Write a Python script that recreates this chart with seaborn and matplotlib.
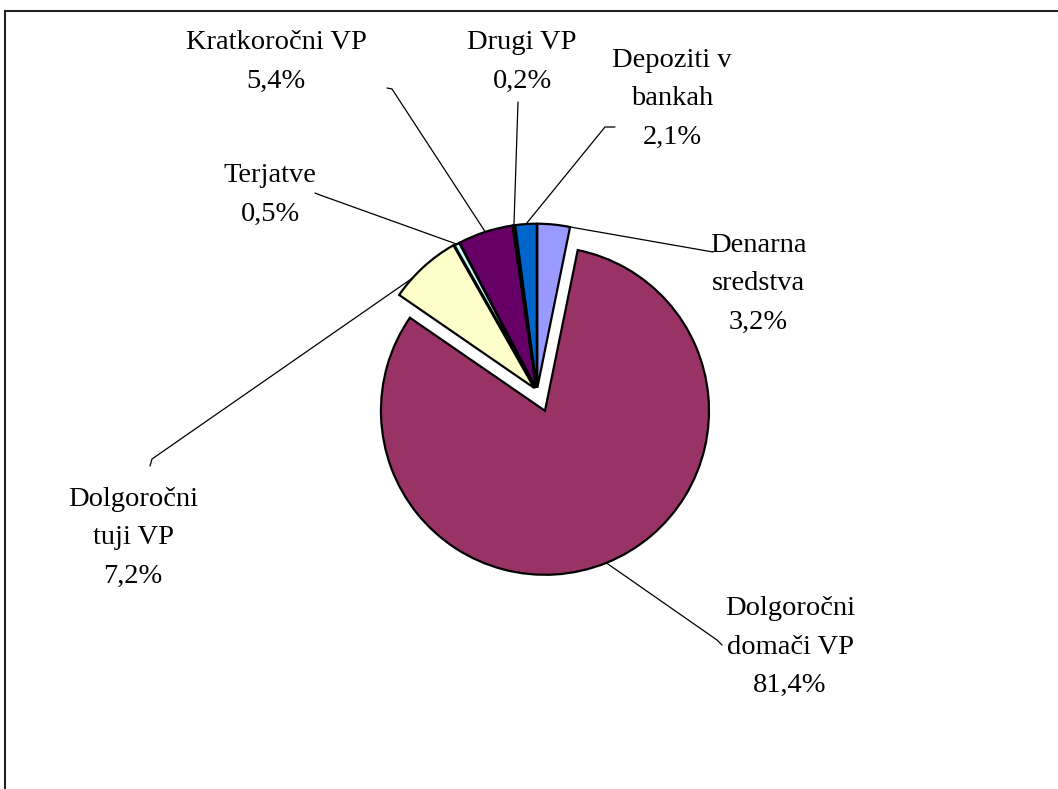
import numpy as np
import matplotlib
matplotlib.use('Agg')
import matplotlib.pyplot as plt
from matplotlib.patches import Rectangle
import seaborn as sns

# Data (order: clockwise from 12 o'clock)
labels = ['Denarna\nsredstva', 'Dolgoročni\ndomači VP', 'Dolgoročni\ntuji VP',
          'Terjatve', 'Kratkoročni VP', 'Drugi VP', 'Depoziti v\nbankah']
shares = [3.2, 81.4, 7.2, 0.5, 5.4, 0.2, 2.1]
colors = ['#9999FF', '#993366', '#FFFFCC', '#CCFFFF', '#660066', '#FF8080', '#0066CC']

sns.set_theme(style='white')
plt.rcParams['font.family'] = ['Liberation Serif', 'DejaVu Serif']

W, H = 1058, 789
fig = plt.figure(figsize=(W / 100, H / 100), dpi=100)
ax = fig.add_axes([0, 0, 1, 1])

# pie centre and radius in pixels
cx, cy, R = 537, 391, 164


def px(x, y):
    return ((x - cx) / R, (cy - y) / R)


explode = [0.02, 0.13, 0.025, 0.02, 0.02, 0.02, 0.02]
wedges, _ = ax.pie(shares, colors=sns.color_palette(colors), startangle=90, counterclock=False,
                   explode=explode, radius=1,
                   wedgeprops=dict(edgecolor='black', linewidth=1.6))
ax.set_xlim(-cx / R, (W - cx) / R)
ax.set_ylim(-(H - cy) / R, cy / R)
ax.set_aspect('auto')
ax.axis('off')

# label layout (pixel positions of label centres and leader line starts)
label_pos = [(758, 284), (790, 647), (133, 538), (270, 195), (276, 62), (522, 62), (672, 99)]
leader = [[(713, 252)], [(722, 645), (717, 640)], [(150, 466), (152, 459)],
          [(315, 193), (320, 195)], [(387, 88), (392, 89)], [(518, 102)],
          [(615, 127), (605, 127)]]
anchor_frac = [0.1, 0.5, 0.71, 0.5, 0.5, 0.5, 0.5]

for w, lab, val, pos, pts, f in zip(wedges, labels, shares, label_pos, leader, anchor_frac):
    txt = f"{lab}\n{val:.1f}%".replace('.', ',')
    ax.text(*px(*pos), txt, ha='center', va='center', fontsize=20.5,
            linespacing=1.72, color='black')
    ang = np.deg2rad(w.theta1 + f * (w.theta2 - w.theta1))
    ax_, ay_ = w.center
    anchor = (ax_ + w.r * np.cos(ang), ay_ + w.r * np.sin(ang))
    line = [px(*p) for p in pts] + [anchor]
    xs, ys = zip(*line)
    ax.plot(xs, ys, color='black', lw=0.9)

# outer frame (cut off at right and bottom)
fig.patches.append(Rectangle((5 / W, -0.1), 1.2, 1 - 11 / H + 0.1, transform=fig.transFigure,
                             fill=False, edgecolor='#222222', lw=1.5))

fig.savefig('out.png', dpi=100)
